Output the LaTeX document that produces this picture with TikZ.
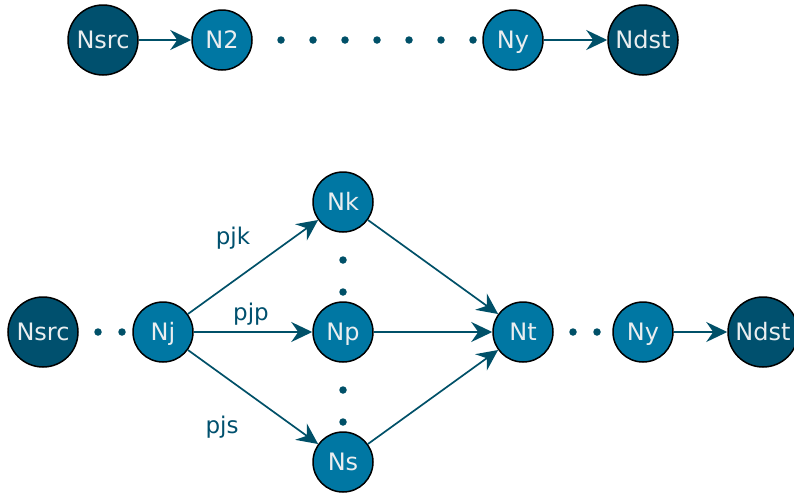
\documentclass[tikz,border=0pt]{standalone}
\usepackage{fontspec}
\setmainfont{DejaVu Sans}
\usetikzlibrary{arrows.meta}
\definecolor{darkn}{HTML}{00506E}
\definecolor{lightn}{HTML}{0077A3}
\definecolor{edgec}{HTML}{005068}
\definecolor{txtc}{HTML}{EAEEF0}
\tikzset{
  base/.style={circle,draw=black,line width=1.5pt,inner sep=0pt,text=txtc,font=\fontsize{24}{24}\selectfont,
    text height=17.5pt,text depth=0pt},
  darknode/.style={base,fill=darkn,minimum size=70pt},
  lightnode/.style={base,fill=lightn,minimum size=60pt},
  conn/.style={draw=edgec,line width=1.7pt,-{Stealth[length=21pt,width=20pt,inset=7pt]}},
  lab/.style={text=darkn,font=\fontsize{23}{23}\selectfont,text height=16.8pt,text depth=0pt,inner sep=0pt},
  dot/.style={circle,fill=edgec,inner sep=0pt,minimum size=7.5pt}
}
\begin{document}
\begin{tikzpicture}[x=1pt,y=-1pt]
\useasboundingbox (0,0) rectangle (794,493);
% top row
\node[darknode] (tsrc) at (103,40) {Nsrc};
\node[lightnode] (tn2) at (222,40) {N2};
\foreach \x [count=\i] in {281,313,345,377,409,441,473} \node[dot] (td\i) at (\x,40) {};
\node[lightnode] (tny) at (513,40) {Ny};
\node[darknode] (tdst) at (643,40) {Ndst};
\draw[conn] (tsrc) -- (tn2);
\draw[conn] (tny) -- (tdst);
% bottom
\node[darknode] (bsrc) at (43,332) {Nsrc};
\node[dot] (bd1) at (98,332) {};
\node[dot] (bd2) at (122,332) {};
\node[lightnode] (nj) at (163,332) {Nj};
\node[lightnode] (nk) at (343,202) {Nk};
\node[lightnode] (np) at (343,332) {Np};
\node[lightnode] (ns) at (343,462) {Ns};
\node[dot] (vd1) at (343,260) {};
\node[dot] (vd2) at (343,292) {};
\node[dot] (vd3) at (343,390) {};
\node[dot] (vd4) at (343,422) {};
\node[lightnode] (nt) at (523,332) {Nt};
\node[dot] (bd3) at (573,332) {};
\node[dot] (bd4) at (597,332) {};
\node[lightnode] (bny) at (643,332) {Ny};
\node[darknode] (bdst) at (763,332) {Ndst};
\draw[conn] (nj) -- (nk);
\draw[conn] (nj) -- (np);
\draw[conn] (nj) -- (ns);
\draw[conn] (nk) -- (nt);
\draw[conn] (np) -- (nt);
\draw[conn] (ns) -- (nt);
\draw[conn] (bny) -- (bdst);
\node[lab] (ljk) at (233,236) {pjk};
\node[lab] (ljp) at (251,312) {pjp};
\node[lab] (ljs) at (222,425) {pjs};
\end{tikzpicture}
\end{document}
